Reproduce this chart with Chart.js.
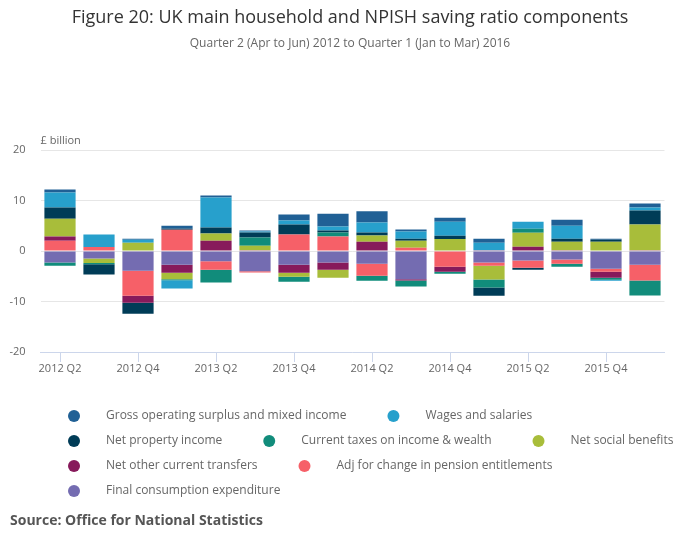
<!DOCTYPE html>
<html>
<head>
<meta charset="utf-8">
<script src="https://cdn.jsdelivr.net/npm/chart.js@4"></script>
<style>
  body { margin: 0; background: #fff; }
</style>
</head>
<body>
<canvas id="chart" width="700" height="549"></canvas>
<script>
// Chart data (£ billion)

const quarters = ['2012 Q2', '2012 Q3', '2012 Q4', '2013 Q1', '2013 Q2', '2013 Q3', '2013 Q4', '2014 Q1',
                  '2014 Q2', '2014 Q3', '2014 Q4', '2015 Q1', '2015 Q2', '2015 Q3', '2015 Q4', '2016 Q1'];

const grossOperatingSurplus = [0.6, 0, 0.2, 0.6, 0.4, 0.2, 1.2, 2.55, 2.2, 0.4, 0.8, 0.8, 0, 1.2, 0.2, 0.8];
const wagesAndSalaries      = [3.0, 2.45, 0.6, -1.65, 5.95, 0.2, 0.8, 0.8, 2.0, 1.4, 2.8, 1.5, 1.4, 2.55, -0.2, 0.6];
const netPropertyIncome     = [2.2, -2.05, -2.2, 0.2, 1.2, 1.0, 2.0, 0.4, 0.6, 0.4, 0.6, -1.6, -0.4, 0.6, 0.4, 2.75];
const currentTaxes          = [-0.6, -0.2, 0, -0.2, -2.55, 1.6, -1.0, 0.8, -1.0, -1.2, -0.4, -1.6, 0.8, -0.6, -0.4, -2.95];
const netSocialBenefits     = [3.55, -0.9, 1.65, -1.3, 1.4, 0.9, -0.8, -1.6, 1.2, 1.4, 2.3, -2.75, 2.75, 1.7, 1.85, 5.1];
const netOtherTransfers     = [0.8, 0, -1.4, -1.6, 2.05, 0.15, -1.6, -1.4, 1.85, -0.25, -1.0, 0.15, 0.85, 0.15, -1.2, 0.15];
const pensionAdjustment     = [2.05, 0.8, -4.95, 4.2, -1.65, -0.25, 3.25, 2.85, -2.4, 0.65, -3.1, -0.6, -1.4, -0.8, -0.6, -3.15];
const finalConsumption      = [-2.3, -1.5, -3.9, -2.7, -2.05, -4.0, -2.7, -2.3, -2.5, -5.6, 0.1, -2.3, -1.9, -1.7, -3.5, -2.7];

const seriesNames = [
    'Gross operating surplus and mixed income',
    'Wages and salaries',
    'Net property income',
    'Current taxes on income & wealth',
    'Net social benefits',
    'Net other current transfers',
    'Adj for change in pension entitlements',
    'Final consumption expenditure'
];
const seriesValues = [grossOperatingSurplus, wagesAndSalaries, netPropertyIncome, currentTaxes,
                      netSocialBenefits, netOtherTransfers, pensionAdjustment, finalConsumption];
const seriesColors = ['#206095', '#27a0cc', '#003c57', '#118c7b', '#a8bd3a', '#871a5b', '#f66068', '#746cb1'];

const yTicks = [-20, -10, 0, 10, 20];

const titleText = 'Figure 20: UK main household and NPISH saving ratio components';
const subtitleText = 'Quarter 2 (Apr to Jun) 2012 to Quarter 1 (Jan to Mar) 2016';
const unitLabel = '£ billion';
const sourceText = 'Source: Office for National Statistics';

const FONT = '"Open Sans", sans-serif';

// Stacks build outward from zero in dataset order, and the reference stacks
// the last legend entry closest to zero, so feed datasets in reverse.
const datasets = seriesNames.map((name, i) => ({
    label: name,
    data: seriesValues[i],
    backgroundColor: seriesColors[i],
    borderWidth: 0,
    categoryPercentage: 1,
    barPercentage: 0.8
})).reverse();

// Draws the unit label, the legend and the source line
const extrasPlugin = {
    id: 'extras',
    afterDraw(chart) {
        const { ctx, chartArea } = chart;
        ctx.save();
        ctx.textBaseline = 'middle';
        ctx.textAlign = 'left';

        ctx.font = '11px ' + FONT;
        ctx.fillStyle = '#666';
        ctx.fillText(unitLabel, chartArea.left, chartArea.top - 9);

        // legend, flowing left to right
        ctx.font = '12px ' + FONT;
        const startX = 68;
        let x = startX, y = 416;
        seriesNames.forEach((name, i) => {
            const w = 38 + ctx.measureText(name).width;
            if (x > startX && x + w > 680) {
                x = startX;
                y += 25;
            }
            ctx.fillStyle = seriesColors[i];
            ctx.beginPath();
            ctx.arc(x + 6, y, 6, 0, Math.PI * 2);
            ctx.fill();
            ctx.fillStyle = '#666';
            ctx.fillText(name, x + 38, y);
            x += w + 41;
        });

        ctx.font = 'bold 14px ' + FONT;
        ctx.fillStyle = '#555';
        ctx.fillText(sourceText, 10, 521);
        ctx.restore();
    }
};

new Chart(document.getElementById('chart'), {
    type: 'bar',
    data: { labels: quarters, datasets: datasets },
    options: {
        responsive: false,
        animation: false,
        layout: { padding: { left: 0, right: 0, top: 0, bottom: 172 } },
        plugins: {
            legend: { display: false },
            tooltip: { enabled: false },
            title: {
                display: true,
                text: titleText,
                color: '#333',
                font: { family: FONT, size: 18, weight: 'normal' },
                padding: { top: 7, bottom: 8 }
            },
            subtitle: {
                display: true,
                text: subtitleText,
                color: '#666',
                font: { family: FONT, size: 12 },
                padding: { top: 0, bottom: 99 }
            }
        },
        scales: {
            x: {
                stacked: true,
                grid: {
                    offset: false,
                    drawOnChartArea: false,
                    tickLength: 10,
                    tickColor: c => (c.index % 2 === 0 ? '#ccd6eb' : 'rgba(0,0,0,0)')
                },
                border: { color: '#ccd6eb' },
                ticks: {
                    autoSkip: false,
                    maxRotation: 0,
                    padding: 0,
                    color: '#666',
                    font: { family: FONT, size: 11 },
                    callback: (v, i) => (i % 2 === 0 ? quarters[i] : '')
                },
                afterFit: s => { s.height = 25; }
            },
            y: {
                stacked: true,
                min: -20,
                max: 20,
                afterBuildTicks: s => { s.ticks = yTicks.map(v => ({ value: v })); },
                grid: { color: '#e6e6e6', drawTicks: false },
                border: { display: false },
                ticks: {
                    padding: 15,
                    color: '#666',
                    font: { family: FONT, size: 11 }
                },
                afterFit: s => { s.width = 40.5; }
            },
            // empty right-hand axis: keeps the right margin while the titles stay centred on the page
            spacer: {
                position: 'right',
                grid: { display: false },
                border: { display: false },
                ticks: { display: false },
                afterFit: s => { s.width = 35.5; }
            }
        }
    },
    plugins: [extrasPlugin]
});
</script>
</body>
</html>
